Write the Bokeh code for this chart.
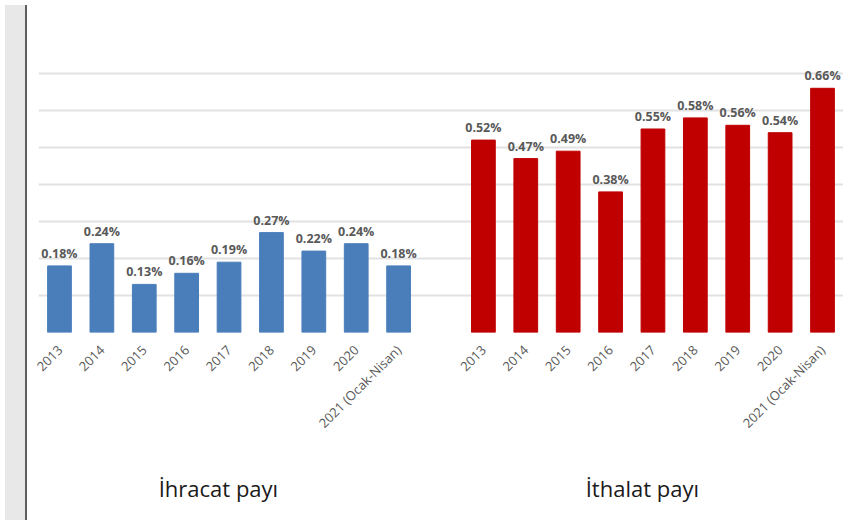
from bokeh.plotting import figure
from bokeh.models import ColumnDataSource, FixedTicker, LinearAxis, Div
from bokeh.layouts import row
from bokeh.embed import file_html
from bokeh.resources import INLINE
from bokeh.core.properties import value
import math

years = ["2013", "2014", "2015", "2016", "2017", "2018", "2019", "2020", "2021 (Ocak-Nisan)"]
ihracat = [0.18, 0.24, 0.13, 0.16, 0.19, 0.27, 0.22, 0.24, 0.18]
ithalat = [0.52, 0.47, 0.49, 0.38, 0.55, 0.58, 0.56, 0.54, 0.66]
titles = ["İhracat payı", "İthalat payı"]

n = len(years)
gap = 1
x_left = list(range(n))
x_right = [n + gap + i for i in range(n)]

FONT = "Open Sans"
LABEL_COLOR = "#595959"

p = figure(width=811, height=515, output_backend="svg", toolbar_location=None,
           x_range=(-0.495, 18.495), y_range=(0, 0.8216),
           min_border_left=6, min_border_right=0, min_border_top=28, min_border_bottom=183)
p.outline_line_color = None
p.background_fill_color = "white"
p.border_fill_color = "white"

src_l = ColumnDataSource(dict(x=x_left, top=ihracat, lab=[f"{v:.2f}%" for v in ihracat]))
src_r = ColumnDataSource(dict(x=x_right, top=ithalat, lab=[f"{v:.2f}%" for v in ithalat]))

p.vbar(x="x", top="top", width=0.56, source=src_l, fill_color="#4a7ebb", line_color="#4a7ebb")
p.vbar(x="x", top="top", width=0.56, source=src_r, fill_color="#c00000", line_color="#c00000")

for s in (src_l, src_r):
    p.text(x="x", y="top", text="lab", source=s, text_align="center", text_baseline="bottom",
           y_offset=-4, text_font=value(FONT), text_font_style="bold",
           text_font_size="12.5px", text_color=LABEL_COLOR)

# axes
p.yaxis.visible = False
p.ygrid.ticker = FixedTicker(ticks=[i / 10 for i in range(8)])
p.ygrid.grid_line_color = "#e2e2e2"
p.ygrid.grid_line_width = 2
p.xgrid.visible = False

xa = p.xaxis[0]
xa.ticker = FixedTicker(ticks=x_left + x_right)
overrides = {}
for i, y in enumerate(years):
    overrides[x_left[i]] = y
    overrides[x_right[i]] = y
xa.major_label_overrides = overrides
xa.major_label_orientation = math.pi / 4
xa.axis_line_color = None
xa.major_tick_line_color = None
xa.minor_tick_line_color = None
xa.major_tick_out = 0
xa.major_label_standoff = 15
xa.major_label_text_font = FONT
xa.major_label_text_font_size = "13px"
xa.major_label_text_color = LABEL_COLOR

# group titles as a second axis below
centers = [sum(x_left) / n - 0.25, sum(x_right) / n - 0.25]
ta = LinearAxis(ticker=FixedTicker(ticks=centers),
                major_label_overrides={c: t for c, t in zip(centers, titles)})
ta.axis_line_color = None
ta.major_tick_line_color = None
ta.minor_tick_line_color = None
ta.major_tick_out = 0
ta.major_label_standoff = 32
ta.major_label_text_font = FONT
ta.major_label_text_font_size = "22px"
ta.major_label_text_color = "#1a1a1a"
p.add_layout(ta, "below")

side = Div(width=22, height=515, styles={"background-color": "#e8e8e8",
                                          "border-right": "2px solid #5e5e5e",
                                          "box-sizing": "border-box"})
layout = row(side, p)

open("out.html", "w").write(file_html(layout, INLINE))
